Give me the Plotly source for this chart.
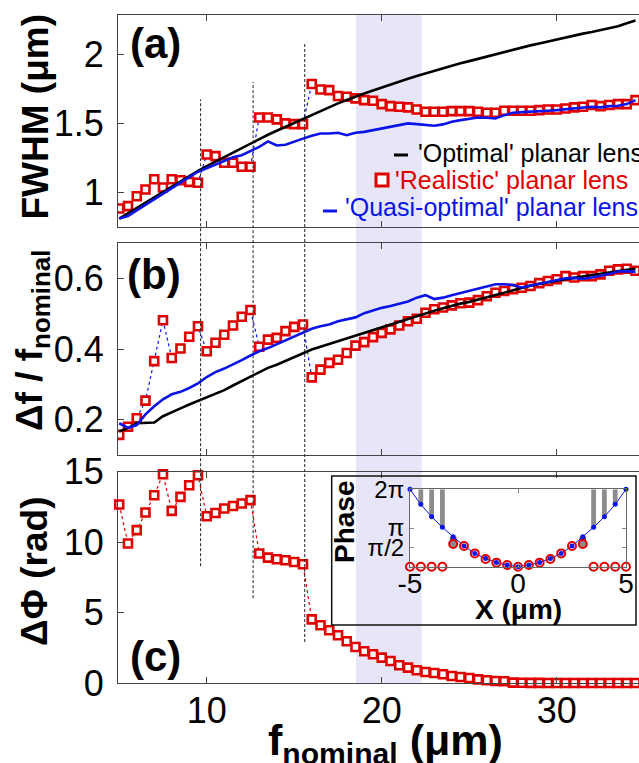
import math
import plotly.graph_objects as go

# ---------------- data ----------------
F_NOMINAL = [5.0, 5.5, 6.0, 6.5, 7.0, 7.5, 8.0, 8.5, 9.0, 9.5,
             10.0, 10.5, 11.0, 11.5, 12.0, 12.5, 13.0, 13.5, 14.0, 14.5,
             15.0, 15.5, 16.0, 16.5, 17.0, 17.5, 18.0, 18.5, 19.0, 19.5,
             20.0, 20.5, 21.0, 21.5, 22.0, 22.5, 23.0, 23.5, 24.0, 24.5,
             25.0, 25.5, 26.0, 26.5, 27.0, 27.5, 28.0, 28.5, 29.0, 29.5,
             30.0, 30.5, 31.0, 31.5, 32.0, 32.5, 33.0, 33.5, 34.0, 34.5]

FWHM_REALISTIC = [0.884, 0.901, 0.973, 1.021, 1.096, 1.036, 1.096, 1.089, 1.077, 1.070,
                  1.275, 1.263, 1.215, 1.215, 1.186, 1.186, 1.543, 1.543, 1.529, 1.500,
                  1.495, 1.495, 1.785, 1.746, 1.741, 1.698, 1.693, 1.681, 1.669, 1.664,
                  1.640, 1.625, 1.621, 1.616, 1.601, 1.584, 1.584, 1.584, 1.589, 1.589,
                  1.589, 1.584, 1.577, 1.577, 1.592, 1.592, 1.592, 1.592, 1.596, 1.601,
                  1.601, 1.608, 1.616, 1.621, 1.633, 1.625, 1.633, 1.640, 1.640, 1.669]
FWHM_OPTIMAL = [0.811, 0.850, 0.889, 0.927, 0.966, 1.005, 1.043, 1.082, 1.120, 1.157,
                1.191, 1.224, 1.258, 1.292, 1.323, 1.355, 1.386, 1.418, 1.447, 1.476,
                1.505, 1.534, 1.563, 1.589, 1.620, 1.645, 1.669, 1.695, 1.717, 1.739,
                1.761, 1.782, 1.804, 1.823, 1.843, 1.862, 1.881, 1.898, 1.918, 1.935,
                1.951, 1.968, 1.985, 2.002, 2.019, 2.034, 2.050, 2.065, 2.079, 2.094,
                2.108, 2.123, 2.135, 2.150, 2.162, 2.176, 2.188, 2.203, 2.225, 2.245]
FWHM_QUASI = [0.811, 0.830, 0.870, 0.910, 0.950, 0.990, 1.030, 1.070, 1.110, 1.150,
              1.175, 1.200, 1.230, 1.255, 1.270, 1.300, 1.330, 1.370, 1.340, 1.345,
              1.370, 1.390, 1.410, 1.427, 1.427, 1.432, 1.415, 1.432, 1.439, 1.451,
              1.464, 1.476, 1.488, 1.500, 1.495, 1.488, 1.483, 1.493, 1.512, 1.524,
              1.534, 1.543, 1.541, 1.536, 1.560, 1.577, 1.582, 1.584, 1.589, 1.592,
              1.596, 1.601, 1.608, 1.613, 1.621, 1.616, 1.625, 1.628, 1.640, 1.669]

DF_REALISTIC = [0.157, 0.180, 0.204, 0.254, 0.366, 0.482, 0.375, 0.402, 0.435, 0.465,
                0.394, 0.418, 0.441, 0.467, 0.492, 0.511, 0.407, 0.427, 0.432, 0.451,
                0.463, 0.470, 0.320, 0.342, 0.361, 0.370, 0.389, 0.410, 0.420, 0.434,
                0.446, 0.456, 0.467, 0.479, 0.486, 0.503, 0.513, 0.518, 0.524, 0.530,
                0.532, 0.539, 0.550, 0.560, 0.565, 0.570, 0.574, 0.579, 0.587, 0.593,
                0.598, 0.607, 0.603, 0.607, 0.607, 0.612, 0.622, 0.626, 0.628, 0.622]
DF_OPTIMAL = [0.167, 0.176, 0.190, 0.192, 0.192, 0.210, 0.222, 0.232, 0.243, 0.253,
              0.263, 0.273, 0.284, 0.297, 0.310, 0.321, 0.336, 0.347, 0.356, 0.367,
              0.379, 0.390, 0.399, 0.407, 0.415, 0.423, 0.431, 0.439, 0.447, 0.455,
              0.462, 0.470, 0.478, 0.486, 0.494, 0.502, 0.509, 0.516, 0.523, 0.529,
              0.534, 0.540, 0.546, 0.553, 0.560, 0.567, 0.574, 0.580, 0.585, 0.590,
              0.594, 0.598, 0.602, 0.606, 0.610, 0.613, 0.617, 0.621, 0.625, 0.627]
DF_QUASI = [0.190, 0.177, 0.185, 0.215, 0.238, 0.258, 0.272, 0.279, 0.290, 0.303,
            0.321, 0.335, 0.345, 0.356, 0.369, 0.382, 0.394, 0.403, 0.414, 0.424,
            0.436, 0.448, 0.458, 0.465, 0.470, 0.479, 0.485, 0.490, 0.502, 0.510,
            0.517, 0.522, 0.528, 0.535, 0.546, 0.553, 0.542, 0.546, 0.553, 0.559,
            0.565, 0.572, 0.579, 0.584, 0.584, 0.582, 0.575, 0.580, 0.585, 0.590,
            0.595, 0.601, 0.602, 0.599, 0.603, 0.607, 0.613, 0.620, 0.621, 0.619]

DPHI_REALISTIC = [12.67, 9.90, 10.85, 12.10, 13.33, 14.82, 12.22, 13.21, 14.04, 14.75,
                  11.84, 12.07, 12.39, 12.57, 12.74, 12.98, 9.19, 8.90, 8.79, 8.71,
                  8.59, 8.43, 4.52, 4.10, 3.74, 3.39, 2.96, 2.56, 2.25, 2.04,
                  1.80, 1.56, 1.26, 1.09, 0.90, 0.78, 0.71, 0.62, 0.50, 0.43,
                  0.36, 0.26, 0.19, 0.14, 0.12, 0.03, 0.02, 0.01, 0.01, 0.00,
                  0.00, 0.00, 0.00, 0.00, 0.00, 0.00, 0.00, 0.00, 0.00, 0.00]

# inset: phase profile across the lens
X_INSET = [-5.0, -4.5, -4.0, -3.5, -3.0, -2.5, -2.0, -1.5, -1.0, -0.5, 0.0,
           0.5, 1.0, 1.5, 2.0, 2.5, 3.0, 3.5, 4.0, 4.5, 5.0]
PHASE_IDEAL = [6.283, 5.06, 4.06, 3.20, 2.44, 1.68, 1.08, 0.66, 0.34, 0.135, 0.0,
               0.135, 0.34, 0.66, 1.08, 1.68, 2.44, 3.20, 4.06, 5.06, 6.283]
PHASE_REALISTIC = [0.0, 0.0, 0.0, 0.0, 1.84, 1.68, 1.08, 0.62, 0.33, 0.135, 0.0,
                   0.135, 0.33, 0.62, 1.08, 1.68, 1.84, 0.0, 0.0, 0.0, 0.0]
GRAY_FILLED_X = [-3.0, 3.0]
GAP_BAR_X = [-4.5, -4.0, -3.5, 3.5, 4.0, 4.5]
PHASE_TICKS = [math.pi / 2, math.pi, 2 * math.pi]
PHASE_TICK_TEXT = ["π/2", "π", "2π"]

SEPARATOR_X = [9.65, 12.65, 15.6]
SEPARATOR_TOP_FWHM = [1.674, 1.80, 2.087]
SEPARATOR_BOTTOM_DPHI = [8.29, 6.02, 2.91]
BAND_X = [18.53, 22.28]

LEGEND_NAMES = ["'Optimal' planar lens", "'Realistic' planar lens", "'Quasi-optimal' planar lens"]

# ---------------- layout helpers ----------------
W, H = 639, 763
ML, MR, MT, MB = 118, 0, 15, 80
PW = W - ML - MR
PH = H - MT - MB


def px_x(px):
    return (px - ML) / PW


def px_y(py):
    return (H - MB - py) / PH


RED = "#e00000"
BLUE = "#0b14e8"
BLACK = "#000000"
AX = "#444444"
FONT = "Liberation Sans, Arial, sans-serif"

XR = [4.93, 34.7]
DOM_A = [px_y(227), 1.0]
DOM_B = [px_y(455), px_y(243.3)]
DOM_C = [0.0, px_y(471.7)]
YR_A = [0.75, 2.285]
YR_B = [0.1, 0.7]
YR_C = [0.0, 15.0]

fig = go.Figure()

realistic_marker = dict(symbol="square", size=8, color="white", line=dict(color=RED, width=2.6))

# panel (a)
fig.add_trace(go.Scatter(x=F_NOMINAL, y=FWHM_REALISTIC, mode="lines+markers", marker=realistic_marker,
                         line=dict(color=BLUE, width=1.2, dash="dot"), xaxis="x", yaxis="y"))
fig.add_trace(go.Scatter(x=F_NOMINAL, y=FWHM_OPTIMAL, mode="lines", line=dict(color=BLACK, width=2.6),
                         xaxis="x", yaxis="y"))
fig.add_trace(go.Scatter(x=F_NOMINAL, y=FWHM_QUASI, mode="lines", line=dict(color=BLUE, width=2.6),
                         xaxis="x", yaxis="y"))
# panel (b)
fig.add_trace(go.Scatter(x=F_NOMINAL, y=DF_REALISTIC, mode="lines+markers", marker=realistic_marker,
                         line=dict(color=BLUE, width=1.2, dash="dot"), xaxis="x2", yaxis="y2"))
fig.add_trace(go.Scatter(x=F_NOMINAL, y=DF_OPTIMAL, mode="lines", line=dict(color=BLACK, width=2.6),
                         xaxis="x2", yaxis="y2"))
fig.add_trace(go.Scatter(x=F_NOMINAL, y=DF_QUASI, mode="lines", line=dict(color=BLUE, width=2.6),
                         xaxis="x2", yaxis="y2"))
# panel (c)
fig.add_trace(go.Scatter(x=F_NOMINAL, y=DPHI_REALISTIC, mode="lines+markers", marker=realistic_marker,
                         line=dict(color=RED, width=1.2, dash="dot"), xaxis="x3", yaxis="y3",
                         cliponaxis=False))

# inset
gap_base = [PHASE_IDEAL[X_INSET.index(x)] for x in GAP_BAR_X]
fig.add_trace(go.Bar(x=GAP_BAR_X, y=[2 * math.pi - b for b in gap_base], base=gap_base, width=0.22,
                     marker=dict(color="#8c8c8c", line=dict(width=0)), xaxis="x4", yaxis="y4"))
dark_base = [PHASE_REALISTIC[X_INSET.index(x)] for x in GRAY_FILLED_X]
dark_top = [PHASE_IDEAL[X_INSET.index(x)] for x in GRAY_FILLED_X]
fig.add_trace(go.Bar(x=GRAY_FILLED_X, y=[t - b for t, b in zip(dark_top, dark_base)], base=dark_base,
                     width=0.3, marker=dict(color="#555555", line=dict(width=0)), xaxis="x4", yaxis="y4"))
fig.add_trace(go.Scatter(x=X_INSET, y=PHASE_IDEAL, mode="lines", line=dict(color=BLUE, width=1),
                         xaxis="x4", yaxis="y4", cliponaxis=False))
fig.add_trace(go.Scatter(x=X_INSET, y=PHASE_REALISTIC, mode="markers",
                         marker=dict(symbol="circle", size=8,
                                     color=["#8a8a8a" if x in GRAY_FILLED_X else "rgba(0,0,0,0)" for x in X_INSET],
                                     line=dict(color=RED, width=2)),
                         xaxis="x4", yaxis="y4", cliponaxis=False))
fig.add_trace(go.Scatter(x=X_INSET, y=PHASE_IDEAL, mode="markers", marker=dict(color=BLUE, size=5),
                         xaxis="x4", yaxis="y4", cliponaxis=False))

tickfont = dict(family=FONT, size=36, color="black")


def xax(anchor, labels):
    return dict(anchor=anchor, domain=[0, 1], range=XR, tickvals=[10, 20, 30], ticktext=["10", "20", "30"],
                ticks="inside", ticklen=6, tickcolor=AX, showticklabels=labels, tickfont=tickfont,
                showline=True, linecolor=AX, linewidth=1.2, mirror="ticks", showgrid=False, zeroline=False,
                ticklabelstandoff=-4)


def yax(anchor, dom, rng, vals, text):
    return dict(anchor=anchor, domain=dom, range=rng, tickvals=vals, ticktext=text, ticks="inside",
                ticklen=6, tickcolor=AX, tickfont=tickfont, showline=True, linecolor=AX, linewidth=1.2,
                showgrid=False, zeroline=False, ticklabelstandoff=6)


inset_font = dict(family=FONT, size=28, color="black")
inset_yfont = dict(family=FONT, size=24, color="black")
IX = [px_x(410), px_x(626)]
IY = [px_y(566.7), px_y(489.3)]

fig.update_layout(
    width=W, height=H, margin=dict(l=ML, r=MR, t=MT, b=MB, autoexpand=False),
    paper_bgcolor="white", plot_bgcolor="white", showlegend=False, barmode="overlay",
    xaxis=xax("y", False), xaxis2=xax("y2", False), xaxis3=xax("y3", True),
    yaxis=yax("x", DOM_A, YR_A, [1, 1.5, 2], ["1", "1.5", "2"]),
    yaxis2=yax("x2", DOM_B, YR_B, [0.2, 0.4, 0.6], ["0.2", "0.4", "0.6"]),
    yaxis3=yax("x3", DOM_C, YR_C, [0, 5, 10, 15], ["0", "5", "10", "15"]),
    xaxis4=dict(anchor="y4", domain=IX, range=[-5, 5], tickvals=[-5, 0, 5], ticktext=["-5", "0", "5"],
                ticks="inside", ticklen=4, tickcolor="#888", tickfont=inset_font, showline=True,
                linecolor="#666", linewidth=1, mirror="ticks", showgrid=False, zeroline=False,
                ticklabelstandoff=-8),
    yaxis4=dict(anchor="x4", domain=IY, range=[0, 2 * math.pi], tickvals=PHASE_TICKS, ticktext=PHASE_TICK_TEXT,
                ticks="inside", ticklen=4, tickcolor="#888", tickfont=inset_yfont, showline=True,
                linecolor="#666", linewidth=1, mirror="ticks", showgrid=False, zeroline=False,
                ticklabelstandoff=0),
)


def to_paper(v, rng, dom):
    return dom[0] + (v - rng[0]) / (rng[1] - rng[0]) * (dom[1] - dom[0])


shapes = []
shapes.append(dict(type="rect", xref="x", yref="paper", x0=BAND_X[0], x1=BAND_X[1], y0=0, y1=1,
                   fillcolor="#e6e6f8", line=dict(width=0), layer="below"))
for sx, top, bot in zip(SEPARATOR_X, SEPARATOR_TOP_FWHM, SEPARATOR_BOTTOM_DPHI):
    shapes.append(dict(type="line", xref="x", yref="paper", x0=sx, x1=sx,
                       y0=to_paper(bot, YR_C, DOM_C), y1=to_paper(top, YR_A, DOM_A),
                       line=dict(color="#222", width=1, dash="3px,2px"), layer="above"))
# inset frame
shapes.append(dict(type="rect", xref="paper", yref="paper", x0=px_x(331.7), x1=px_x(636),
                   y0=px_y(625), y1=px_y(476), line=dict(color="#111", width=1.5),
                   fillcolor="rgba(0,0,0,0)", layer="above"))
# legend keys
shapes.append(dict(type="line", xref="paper", yref="paper", x0=px_x(394), x1=px_x(408),
                   y0=px_y(155), y1=px_y(155), line=dict(color=BLACK, width=3)))
shapes.append(dict(type="rect", xref="paper", yref="paper", x0=px_x(376), x1=px_x(388),
                   y0=px_y(186), y1=px_y(174), line=dict(color=RED, width=3), fillcolor="white"))
shapes.append(dict(type="line", xref="paper", yref="paper", x0=px_x(323), x1=px_x(337),
                   y0=px_y(211), y1=px_y(211), line=dict(color=BLUE, width=3)))
fig.update_layout(shapes=shapes)

ann = []


def add_text(text, px, py, size, color="black", angle=0, xanchor="center", bold=False):
    ann.append(dict(text=("<b>%s</b>" % text) if bold else text, xref="paper", yref="paper",
                    x=px_x(px), y=px_y(py), xanchor=xanchor, yanchor="middle", showarrow=False,
                    textangle=angle, font=dict(family=FONT, size=size, color=color)))


add_text("FWHM (μm)", 34.5, 117, 37, angle=-90, bold=True)
add_text("Δf / f<sub>nominal</sub>", 32, 341, 37, angle=-90, bold=True)
add_text("ΔΦ (rad)", 34, 572, 37, angle=-90, bold=True)
add_text("f<sub>nominal</sub> (μm)", 385, 743, 43, bold=True)
add_text("(a)", 155.5, 44, 42, bold=True)
add_text("(b)", 154, 274.5, 42, bold=True)
add_text("(c)", 155.5, 656, 42, bold=True)
add_text(LEGEND_NAMES[0], 416, 153, 25, color=BLACK, xanchor="left")
add_text(LEGEND_NAMES[1], 393, 180, 25, color=RED, xanchor="left")
add_text(LEGEND_NAMES[2], 343, 207, 25, color=BLUE, xanchor="left")
add_text("Phase", 344, 522, 28, angle=-90, bold=True)
add_text("X (μm)", 518, 609, 28, bold=True)
fig.update_layout(annotations=ann)

fig.write_html("out.html", config={"displayModeBar": False},
               post_script="document.body.style.margin='0px';document.body.style.overflow='hidden';")
